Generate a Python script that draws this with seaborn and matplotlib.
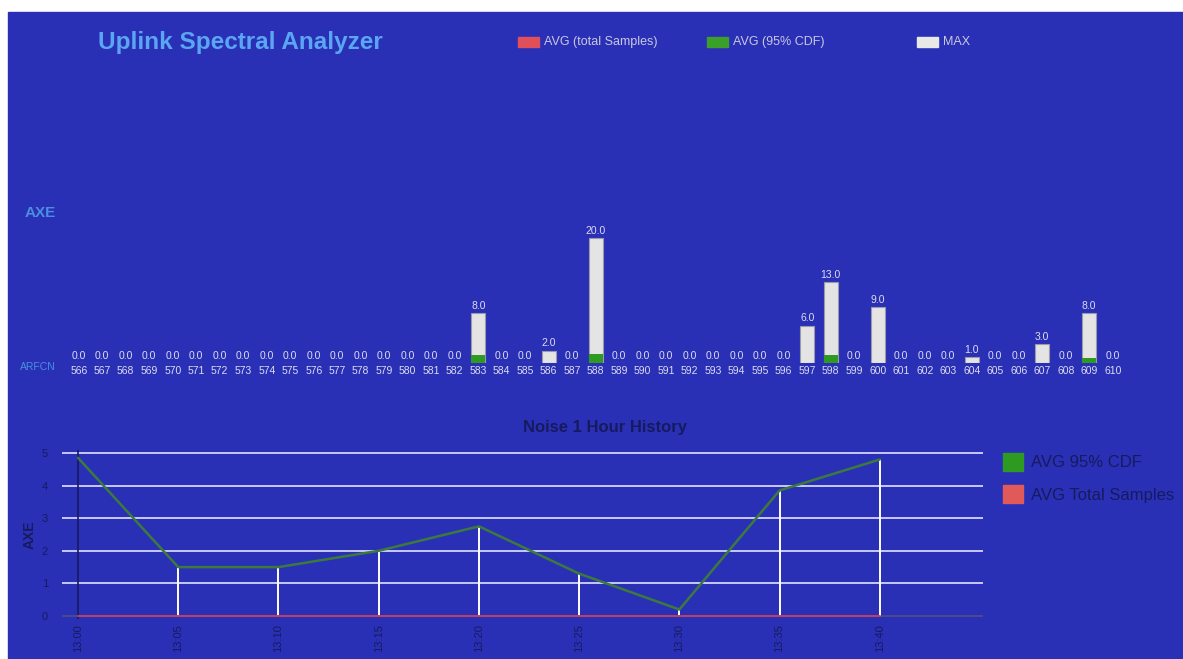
import matplotlib
matplotlib.use("Agg")
import matplotlib.pyplot as plt
from matplotlib.patches import Rectangle, Patch
import seaborn as sns
import numpy as np
import pandas as pd

# channel data (top chart)
arfcn = [str(c) for c in range(566, 611)]
max_vals = [0, 0, 0, 0, 0, 0, 0, 0, 0, 0, 0, 0, 0, 0, 0, 0, 0, 8, 0, 0,
            2, 0, 20, 0, 0, 0, 0, 0, 0, 0, 0, 6, 13, 0, 9, 0, 0, 0, 1, 0,
            0, 3, 0, 8, 0]
avg95_vals = [0, 0, 0, 0, 0, 0, 0, 0, 0, 0, 0, 0, 0, 0, 0, 0, 0, 1.3, 0, 0,
              0, 0, 1.5, 0, 0, 0, 0, 0, 0, 0, 0, 0, 1.3, 0, 0, 0, 0, 0, 0, 0,
              0, 0, 0, 0.8, 0]
avg_total_vals = [0] * 45

# history data (bottom chart)
hist_times = ["13:00", "13:05", "13:10", "13:15", "13:20",
              "13:25", "13:30", "13:35", "13:40"]
hist_avg95 = [4.85, 1.5, 1.5, 2.0, 2.75, 1.3, 0.2, 3.85, 4.8]
hist_avg_total = [0, 0, 0, 0, 0, 0, 0, 0, 0]
hist_yticks = [0, 1, 2, 3, 4, 5]

BLUE = "#2a30b6"
LIGHT_BLUE = "#5aa6f2"
LABEL = "#dcdcf0"
DARK = "#161a5e"

sns.set_style("white")
plt.rcParams["font.family"] = ["Liberation Sans", "DejaVu Sans"]

fig = plt.figure(figsize=(11.83, 6.59), dpi=100, facecolor="white")
fig.patches.append(Rectangle((8 / 1183, 0), 1, 1 - 12 / 659,
                             transform=fig.transFigure, color=BLUE, zorder=-5))

# header
fig.text(98 / 1183, 1 - 42 / 659, "Uplink Spectral Analyzer", color=LIGHT_BLUE,
         fontsize=17.5, fontweight="bold", va="center", ha="left")
legend_items = [(518, "#e0505a", "AVG (total Samples)"),
                (707, "#3aa02a", "AVG (95% CDF)"),
                (917, "#e8e8e8", "MAX")]
for px, col, txt in legend_items:
    fig.patches.append(Rectangle((px / 1183, 1 - 47 / 659), 21 / 1183, 10 / 659,
                                 transform=fig.transFigure, color=col, zorder=2))
    fig.text((px + 26) / 1183, 1 - 42 / 659, txt, color="#c8c8e0",
             fontsize=9, va="center", ha="left")

fig.text(25 / 1183, 1 - 213 / 659, "AXE", color="#4a8ee0", fontsize=11,
         fontweight="bold", va="center", ha="left")

# top bar chart
ax = fig.add_axes([67 / 1183, 1 - 363 / 659, 1057.5 / 1183, 187.5 / 659])
ax.set_facecolor("none")
top_df = pd.DataFrame({"arfcn": arfcn, "max": max_vals,
                       "avg95": avg95_vals, "avg": avg_total_vals})
sns.barplot(data=top_df, x="arfcn", y="max", color="#e4e4e4", saturation=1,
            width=0.6, edgecolor="#9a9aa8", linewidth=0.8, ax=ax)
sns.barplot(data=top_df, x="arfcn", y="avg95", color="#2e9a22", saturation=1,
            width=0.6, linewidth=0, ax=ax)
for i, v in enumerate(max_vals):
    ax.text(i, v + 0.35, f"{v:.1f}", color=LABEL, fontsize=7.5,
            ha="center", va="bottom")
ax.set_xlim(-0.5, 44.5)
ax.set_ylim(0, 30)
ax.set_yticks([])
ax.set_xlabel("")
ax.set_ylabel("")
ax.tick_params(axis="x", length=0, pad=2, labelsize=7.5, colors=LABEL)
for s in ax.spines.values():
    s.set_visible(False)
fig.text(20 / 1183, 1 - 367 / 659, "ARFCN", color="#4a8ee0", fontsize=7.5,
         va="center", ha="left")

# bottom history chart
ax2 = fig.add_axes([62 / 1183, 1 - 619.3 / 659, 921 / 1183, 169.6 / 659])
ax2.set_facecolor("none")
xs = list(range(len(hist_times)))
hist_df = pd.DataFrame({"x": xs, "avg95": hist_avg95, "avg": hist_avg_total})
for t in hist_yticks[1:]:
    ax2.axhline(t, color="#c8c8ff", lw=1.4, zorder=1)
ax2.axhline(0, color="#4a4a8a", lw=1.4, zorder=1)
ax2.axvline(0, color=DARK, lw=1.2, zorder=1)
ax2.vlines(xs[1:], 0, hist_avg95[1:], color="white", lw=1.4, zorder=2)
sns.lineplot(data=hist_df, x="x", y="avg", color="#c04060", lw=1.4, ax=ax2,
             zorder=3)
sns.lineplot(data=hist_df, x="x", y="avg95", color="#3c7a3c", lw=1.8, ax=ax2,
             zorder=4)
ax2.set_xlim(-0.16, 9.03)
ax2.set_ylim(-0.1, 5.1)
ax2.set_yticks(hist_yticks)
ax2.set_yticklabels([str(t) for t in hist_yticks])
ax2.set_xticks(xs)
ax2.set_xticklabels(hist_times, rotation=90)
ax2.tick_params(axis="both", length=0, labelsize=8, colors=DARK)
ax2.tick_params(axis="y", pad=10)
ax2.set_xlabel("")
ax2.set_ylabel("AXE", color=DARK, fontsize=10, fontweight="bold", labelpad=4)
for s in ax2.spines.values():
    s.set_visible(False)
ax2.text(0.59, 1.13, "Noise 1 Hour History", transform=ax2.transAxes,
         color=DARK, fontsize=12, fontweight="bold", ha="center", va="center")
handles = [Patch(color="#2e9a22", label="AVG 95% CDF"),
           Patch(color="#e05a5a", label="AVG Total Samples")]
leg = ax2.legend(handles=handles, loc="upper left", bbox_to_anchor=(1.005, 1.07),
                 frameon=False, fontsize=12, handlelength=1.2, handleheight=1.3,
                 labelspacing=0.85, handletextpad=0.5)
for t in leg.get_texts():
    t.set_color(DARK)

fig.savefig("out.png", dpi=100)
